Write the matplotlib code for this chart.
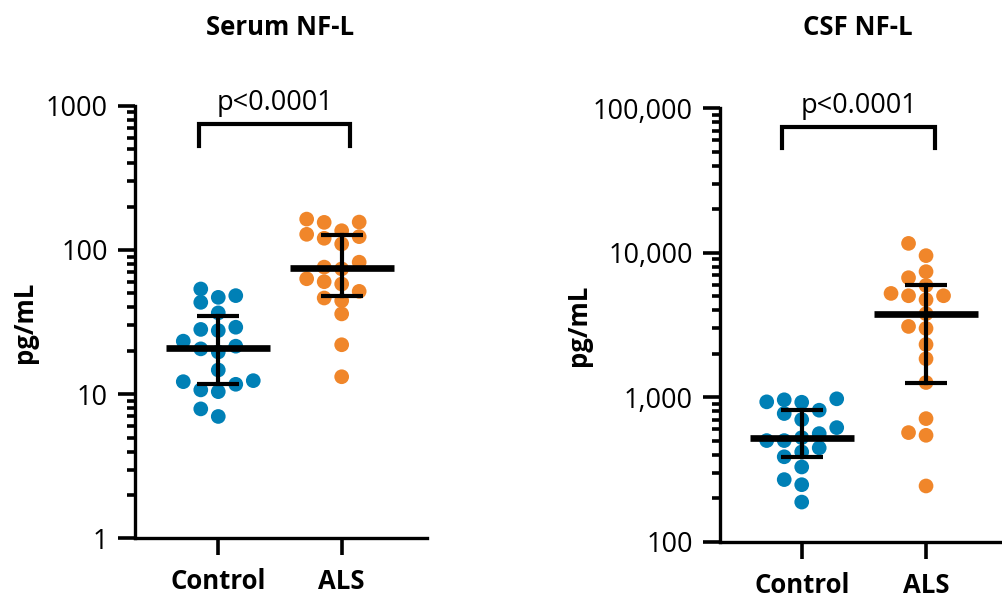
import numpy as np
import matplotlib
matplotlib.use("Agg")
import matplotlib.pyplot as plt
from matplotlib.ticker import FixedLocator, FuncFormatter, LogLocator, NullFormatter

plt.rcParams['font.family'] = ['Open Sans', 'DejaVu Sans']

groups = ['Control', 'ALS']

serum_control = [53.6, 46.9, 48.2, 43.3, 36.6, 28.1, 27.6, 29.1, 23.3, 21.5,
                 20.6, 19.6, 14.7, 12.4, 10.7, 10.4, 11.7, 12.2, 7.9, 7.0]
serum_als = [163.6, 156.0, 155.3, 135.9, 128.3, 120.4, 123.6, 110.0, 82.2, 73.9,
             76.0, 63.1, 58.0, 60.2, 51.6, 46.4, 44.5, 36.0, 22.0, 13.2]

csf_control = [975, 960, 923, 929, 813, 771, 700, 616, 560, 501,
               501, 525, 446, 418, 387, 329, 269, 248, 188]
csf_als = [11610, 9550, 7400, 6720, 5940, 5040, 5040, 5230, 4730, 3785,
           2993, 3090, 2318, 1845, 1264, 711, 569, 545, 243]

serum_ticks = [1, 10, 100, 1000]
csf_ticks = [100, 1000, 10000, 100000]

p_text = 'p<0.0001'
blue = '#0080B6'
orange = '#F0862A'


def swarm_x(ax, x0, vals, step_px=17.5, diam_px=13.0):
    # greedy column layout, done in pixel space
    pts = ax.transData.transform(np.column_stack([np.full(len(vals), x0), vals]))
    ys = pts[:, 1]
    cols = np.zeros(len(vals))
    used = {}
    for i in np.argsort(ys):
        for c in [0, -1, 1, -2, 2, -3, 3, -4, 4]:
            if all(abs(ys[i] - y) >= diam_px for y in used.get(c, [])):
                used.setdefault(c, []).append(ys[i])
                cols[i] = c
                break
    back = ax.transData.inverted().transform(
        np.column_stack([pts[:, 0] + cols * step_px, ys]))
    return back[:, 0]


def panel(ax, ctrl, als, ticks, fmt, xlim, title, title_x, label_x):
    ax.set_yscale('log')
    ax.set_ylim(ticks[0], ticks[-1])
    ax.set_xlim(*xlim)
    for spine in ['top', 'right']:
        ax.spines[spine].set_visible(False)
    for spine in ['left', 'bottom']:
        ax.spines[spine].set_linewidth(2.4)
        ax.spines[spine].set_capstyle('projecting')

    for i, (vals, color) in enumerate([(ctrl, blue), (als, orange)]):
        vals = np.array(vals, dtype=float)
        xs = swarm_x(ax, i, vals)
        ax.scatter(xs, vals, s=112, color=color, edgecolors='none', zorder=2, clip_on=False)
        q1, med, q3 = np.percentile(vals, [25, 50, 75], method='weibull')
        ax.plot([i - 0.42, i + 0.42], [med, med], color='black', lw=4.8,
                solid_capstyle='butt', zorder=3)
        ax.plot([i, i], [q1, q3], color='black', lw=3.0, zorder=3)
        for q in (q1, q3):
            ax.plot([i - 0.17, i + 0.17], [q, q], color='black', lw=3.0,
                    solid_capstyle='butt', zorder=3)

    ax.yaxis.set_major_locator(FixedLocator(ticks))
    ax.yaxis.set_major_formatter(FuncFormatter(fmt))
    ax.yaxis.set_minor_locator(LogLocator(base=10, subs=np.arange(2, 10)))
    ax.yaxis.set_minor_formatter(NullFormatter())
    ax.tick_params(axis='y', which='major', length=12.5, width=2.6, labelsize=19.5, pad=7)
    ax.tick_params(axis='y', which='minor', length=5.5, width=2.6)
    ax.set_xticks([0, 1])
    ax.set_xticklabels(groups, fontsize=18.5, fontweight='bold')
    ax.tick_params(axis='x', length=12.5, width=2.6, pad=9)

    ax.set_ylabel('pg/mL', fontsize=18.5, fontweight='bold')
    ax.yaxis.set_label_coords(label_x, 0.5)

    # significance bracket
    trans = ax.get_xaxis_transform()
    bx0, bx1 = -0.155, 1.07
    ax.plot([bx0, bx0, bx1, bx1], [0.908, 0.957, 0.957, 0.908], color='black',
            lw=3.0, transform=trans, clip_on=False, solid_joinstyle='miter')
    ax.text((bx0 + bx1) / 2, 0.99, p_text, transform=trans, ha='center',
            va='baseline', fontsize=19.5)

    ax.figure.text(title_x, 0.942, title, ha='center', va='baseline',
                   fontsize=18.5, fontweight='bold')


fig = plt.figure(figsize=(10.02, 5.99), dpi=100)
ax1 = fig.add_axes([0.1347, 0.1013, 0.2914, 0.7222])
ax2 = fig.add_axes([0.7186, 0.0957, 0.2814, 0.7235])

panel(ax1, serum_control, serum_als, serum_ticks, lambda v, p: f'{int(v)}',
      (-0.675, 1.691), 'Serum NF-L', 280 / 1002, -0.332)
panel(ax2, csf_control, csf_als, csf_ticks, lambda v, p: f'{int(v):,}',
      (-0.657, 1.611), 'CSF NF-L', 858 / 1002, -0.454)

fig.savefig('out.png', dpi=100)
